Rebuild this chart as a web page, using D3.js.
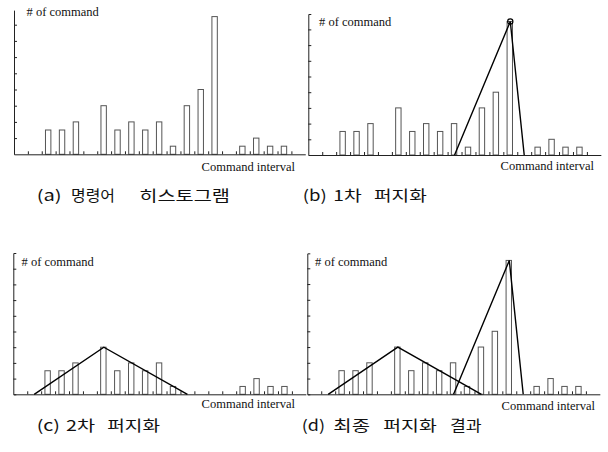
<!DOCTYPE html>
<html><head><meta charset="utf-8">
<script src="https://cdn.jsdelivr.net/npm/d3@7"></script>
<style>
html,body{margin:0;padding:0;background:#fff;}
svg{display:block;}
</style></head>
<body>
<svg id="chart" width="608" height="452"></svg>
<script>
// ---- data ----
const intervals = [0,1,2,3,4,5,6,7,8,9,10,11,12,13,14,15,16,17,18,19,20];
const histogram = [0,0,1.5,1.5,2,0,3,1.5,2,1.5,2,0.5,3,4,8.5,0,0.5,1,0.5,0.5,0];
const residual  = [0,0,1.5,1.5,2,0,3,1.5,2,1.5,2,0.5,0,0,0,0,0.5,1,0.5,0.5,0];
const fuzzy1X = [10,14,15];
const fuzzy1Y = [0,8.5,0];
const fuzzy2X = [1,6,12];
const fuzzy2Y = [0,3,0];
const yTicks = [1,2,3,4,5,6,7,8];
const yLabel = "# of command";
const xLabel = "Command interval";
const captionA = ["(a)","명령어","히스토그램"];
const captionB = ["(b)","1차","퍼지화"];
const captionC = ["(c)","2차","퍼지화"];
const captionD = ["(d)","최종","퍼지화","결과"];

// ---- layout ----
const svg = d3.select("#chart");
const panels = [
  {x0:14,   base:154.3, unit:16.2,  top:8.9,  slot:13.87, bars:histogram, sets:[], circle:false, outer:0,
   yl:[26.5,16], xl:[295,170.5]},
  {x0:308.3,base:155,   unit:15.7,  top:8.98, slot:13.93, bars:histogram, sets:[[fuzzy1X,fuzzy1Y]], circle:true, outer:-3,
   yl:[319,26], xl:[594,170]},
  {x0:13.3, base:394.3, unit:15.7,  top:9.0,  slot:13.93, bars:residual,  sets:[[fuzzy2X,fuzzy2Y]], circle:false, outer:-3,
   yl:[21.5,265.5], xl:[295,408]},
  {x0:307.3,base:394.3, unit:15.75, top:8.95, slot:13.93, bars:histogram, sets:[[fuzzy2X,fuzzy2Y],[fuzzy1X,fuzzy1Y]], circle:false, outer:-3,
   yl:[315,266], xl:[595,410]}
];

panels.forEach(p => {
  const g = svg.append("g");
  const xEnd = p.x0 + 21*p.slot;
  const x = d3.scaleBand().domain(intervals).range([p.x0, xEnd]);
  const xl = d3.scaleLinear().domain([0,21]).range([p.x0, xEnd]);
  const y = d3.scaleLinear().domain([0,p.top]).range([p.base, p.base - p.top*p.unit]);
  const bw = 5.4;

  // bars
  g.selectAll("rect.bar").data(intervals.filter(i => p.bars[i] > 0)).enter()
    .append("rect")
    .attr("x", i => x(i) + (x.bandwidth()-bw)/2 - 0.5)
    .attr("y", i => y(p.bars[i]))
    .attr("width", bw)
    .attr("height", i => y(0) - y(p.bars[i]))
    .attr("fill","#fff").attr("stroke","#555").attr("stroke-width",1);

  // axes
  const ax = g.append("g").attr("transform",`translate(0,${p.base})`)
    .call(d3.axisBottom(xl).tickValues(d3.range(1,21)).tickSizeInner(-3).tickSizeOuter(0).tickFormat(""));
  const ay = g.append("g").attr("transform",`translate(${p.x0},0)`)
    .call(d3.axisLeft(y).tickValues(yTicks).tickSizeInner(-3).tickSizeOuter(p.outer).tickFormat(""));
  [ax,ay].forEach(a => { a.selectAll("path,line").attr("stroke","#222").attr("stroke-width",1); });

  // fuzzy triangles
  const line = d3.line().x(d => x(d[0]) + x.bandwidth()/2).y(d => y(d[1]));
  p.sets.forEach(([xs,ys]) => {
    g.append("path").datum(xs.map((v,k)=>[v,ys[k]]))
      .attr("d", line).attr("fill","none").attr("stroke","#000").attr("stroke-width",1.4)
      .attr("stroke-linejoin","miter");
  });
  if (p.circle) {
    g.append("circle").attr("cx", x(fuzzy1X[1]) + x.bandwidth()/2).attr("cy", y(fuzzy1Y[1]))
      .attr("r",2.6).attr("fill","none").attr("stroke","#000").attr("stroke-width",1.2);
  }

  // labels
  g.append("text").attr("x",p.yl[0]).attr("y",p.yl[1]).text(yLabel)
    .attr("font-family","'Liberation Serif', serif").attr("font-size",12.5).attr("fill","#111");
  g.append("text").attr("x",p.xl[0]).attr("y",p.xl[1]).text(xLabel).attr("text-anchor","end")
    .attr("font-family","'Liberation Serif', serif").attr("font-size",12.5).attr("fill","#111");
});

// captions: [words], [x starts], [widths], baseline
function caption(words, xs, ws, yb){
  words.forEach((w,k)=>{
    svg.append("text").attr("x",xs[k]).attr("y",yb).text(w)
      .attr("font-family","'Noto Sans CJK KR', sans-serif").attr("font-size",15).attr("fill","#111")
      .attr("textLength",ws[k]).attr("lengthAdjust","spacingAndGlyphs");
  });
}
caption(captionA, [36.7,71,139.3],[25,44,90.7],200.5);
caption(captionB, [302.7,333.3,374],[24,28.4,52.7],200.5);
caption(captionC, [36.7,66,107.3],[23.3,29,52.7],430.5);
caption(captionD, [301.7,333.3,383.3,450],[23.3,36.7,53.4,31.7],430.5);
</script>
</body></html>
